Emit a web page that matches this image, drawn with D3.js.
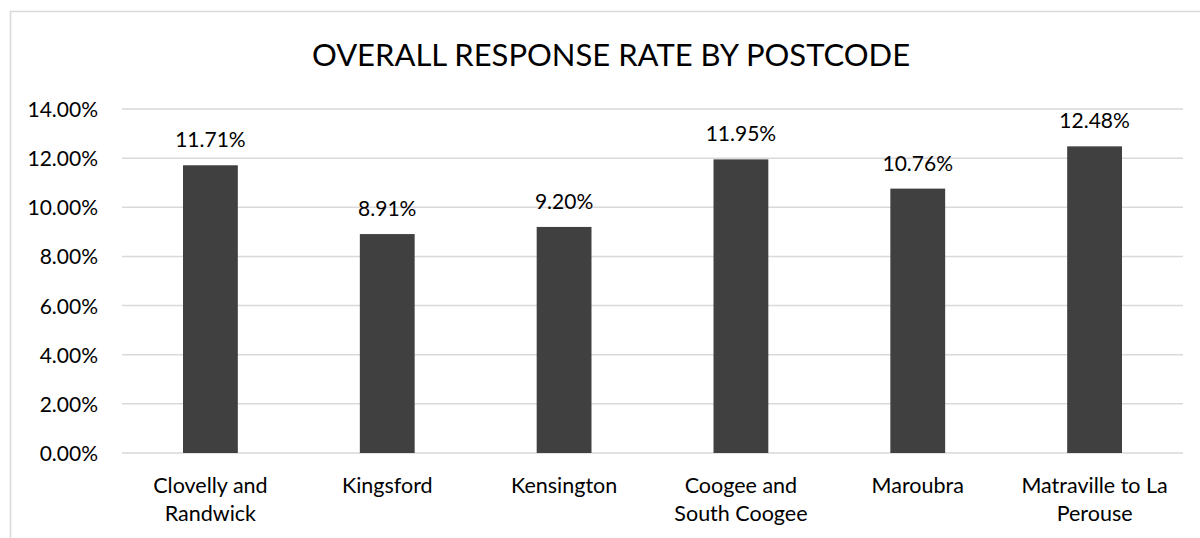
<!DOCTYPE html>
<html>
<head>
<meta charset="utf-8">
<script src="https://cdn.jsdelivr.net/npm/d3@7"></script>
<style>
  html, body { margin: 0; padding: 0; background: #fff; }
  svg { display: block; }
  text { font-family: Lato, "Liberation Sans", sans-serif; fill: #000; }
</style>
</head>
<body>
<svg id="chart" width="1200" height="538"></svg>
<script>
// Response rate by postcode area
const categories = [
  ["Clovelly and", "Randwick"],
  ["Kingsford"],
  ["Kensington"],
  ["Coogee and", "South Coogee"],
  ["Maroubra"],
  ["Matraville to La", "Perouse"]
];
const rates = [11.71, 8.91, 9.20, 11.95, 10.76, 12.48];
const yTicks = [0, 2, 4, 6, 8, 10, 12, 14];
const title = "OVERALL RESPONSE RATE BY POSTCODE";

const svg = d3.select("#chart");
const plot = { left: 122, right: 1183, top: 109, bottom: 453 };
const labelFont = "21px";

// outer chart frame
svg.append("rect")
  .attr("x", 10.5).attr("y", 11.5)
  .attr("width", 1220).attr("height", 560)
  .attr("fill", "none").attr("stroke", "#d9d9d9").attr("stroke-width", 1.5);

const x = d3.scaleBand()
  .domain(d3.range(categories.length))
  .range([plot.left, plot.right])
  .paddingInner(0.69).paddingOuter(0.345);

const y = d3.scaleLinear().domain([0, 14]).range([plot.bottom, plot.top]);

// title
svg.append("text")
  .attr("x", 611).attr("y", 66)
  .attr("text-anchor", "middle")
  .style("font-size", "31px")
  .text(title);

// gridlines
svg.append("g").selectAll("line").data(yTicks).join("line")
  .attr("x1", plot.left).attr("x2", plot.right)
  .attr("y1", d => y(d)).attr("y2", d => y(d))
  .attr("stroke", "#d9d9d9").attr("stroke-width", 1.5);

// y axis labels
const yAxis = d3.axisLeft(y).tickValues(yTicks)
  .tickFormat(d => d.toFixed(2) + "%").tickSize(0).tickPadding(0);
const gy = svg.append("g").attr("transform", `translate(98,0)`).call(yAxis);
gy.select(".domain").remove();
gy.selectAll("text").style("font-size", labelFont).attr("fill", "#000")
  .attr("dy", "0.36em").style("font-family", "Lato, 'Liberation Sans', sans-serif");

// bars
svg.append("g").selectAll("rect").data(rates).join("rect")
  .attr("x", (d, i) => x(i))
  .attr("width", x.bandwidth())
  .attr("y", d => y(d))
  .attr("height", d => y(0) - y(d))
  .attr("fill", "#404040");

// value labels
svg.append("g").selectAll("text").data(rates).join("text")
  .attr("x", (d, i) => x(i) + x.bandwidth() / 2)
  .attr("y", d => y(d) - 18)
  .attr("text-anchor", "middle")
  .style("font-size", labelFont)
  .text(d => d.toFixed(2) + "%");

// category labels
const xAxis = d3.axisBottom(x).tickSize(0).tickFormat(() => "");
const gx = svg.append("g").attr("transform", `translate(0,${plot.bottom})`).call(xAxis);
gx.select(".domain").remove();
gx.selectAll(".tick").each(function(i) {
  const t = d3.select(this).append("text")
    .attr("text-anchor", "middle")
    .style("font-size", "21.5px")
    .style("font-family", "Lato, 'Liberation Sans', sans-serif")
    .attr("fill", "#000");
  categories[i].forEach((line, k) => {
    t.append("tspan").attr("x", 0).attr("y", 40 + k * 28).text(line);
  });
});
</script>
</body>
</html>
